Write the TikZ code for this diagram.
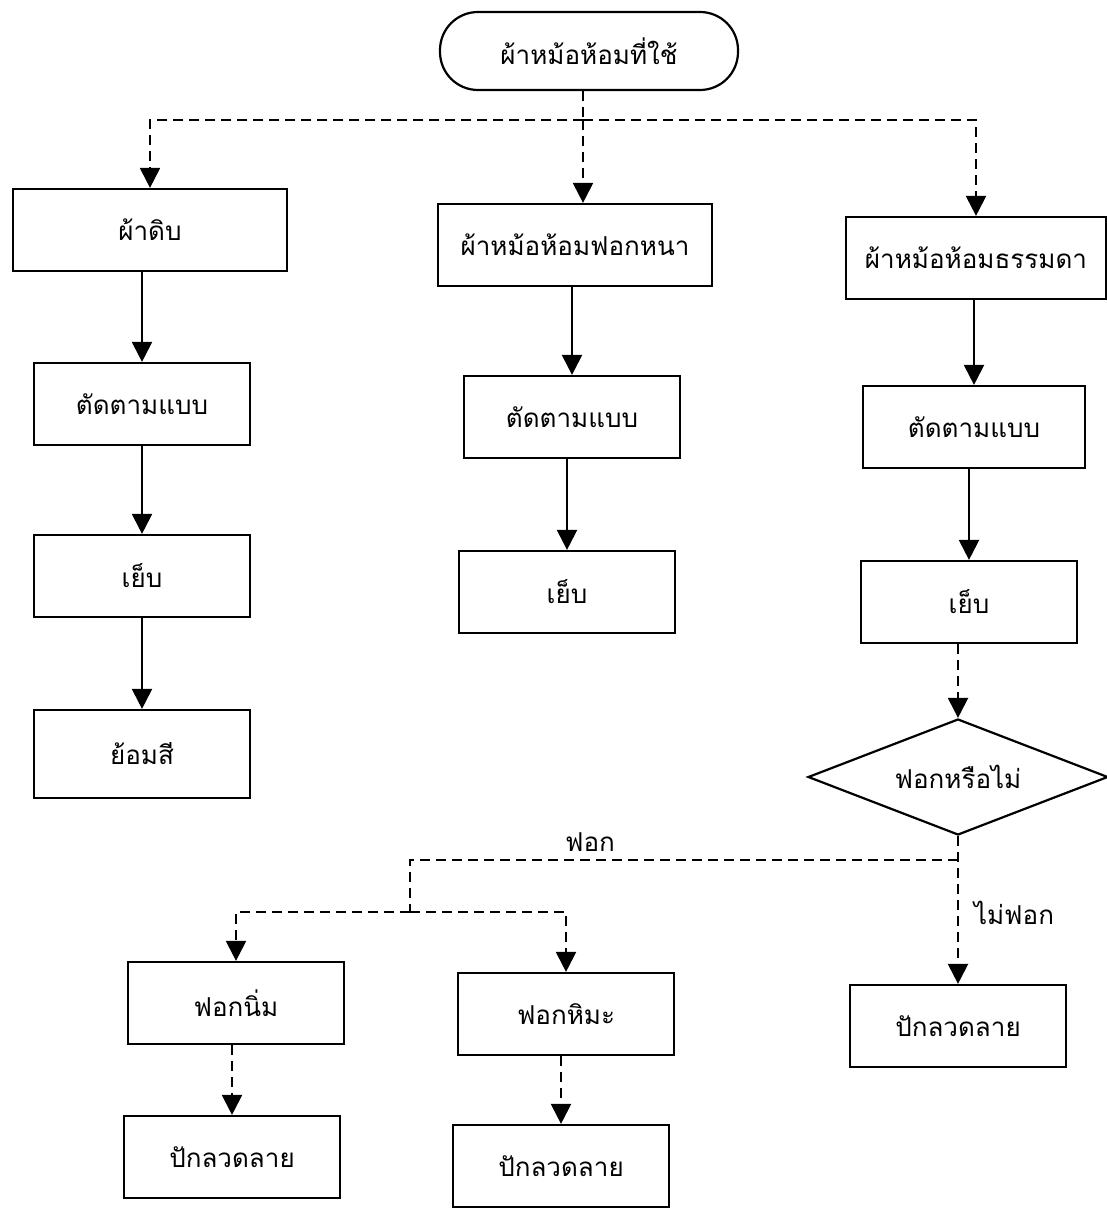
\documentclass[tikz,border=0pt]{standalone}
\usepackage{fontspec}
\newfontfamily\thaifont[Script=Thai]{Loma}
\usetikzlibrary{arrows.meta,shapes.geometric}
\tikzset{flowtip/.tip={Triangle[length=10pt,width=10pt]}}
\newcommand{\flowfont}{\thaifont\fontsize{13}{15}\selectfont}
\tikzstyle{stepbox}=[draw, line width=1.1pt, font=\flowfont, minimum width=108pt, minimum height=41pt]
\tikzstyle{startbox}=[stepbox, rounded corners=19pt, minimum width=149pt, minimum height=39pt]
\tikzstyle{askbox}=[draw, diamond, line width=1.1pt, font=\flowfont, aspect=2.6, inner sep=0pt,
                    minimum width=150pt, minimum height=58pt]
\tikzstyle{flow}=[-flowtip, line width=1.1pt]
\tikzstyle{dashline}=[line width=1.1pt, dash pattern=on 5pt off 3pt]
\tikzstyle{option}=[dashline, -flowtip]
\begin{document}
\begin{tikzpicture}[x=0.5pt, y=-0.5pt]

  % Page frame (pixel grid of the scan)
  \useasboundingbox (0,0) rectangle (1107,1209);

  % Start
  \node[startbox] at (589,51) (nodeStart) {ผ้าหม้อห้อมที่ใช้};

  % Left column
  \node[stepbox, minimum width=137pt] at (150,230) (nodeRaw) {ผ้าดิบ};
  \node[stepbox] at (142,404) (nodeCutA) {ตัดตามแบบ};
  \node[stepbox] at (142,576) (nodeSewA) {เย็บ};
  \node[stepbox, minimum height=44pt] at (142,754) (nodeDye) {ย้อมสี};

  % Middle column
  \node[stepbox, minimum width=137pt] at (575,245) (nodeThick) {ผ้าหม้อห้อมฟอกหนา};
  \node[stepbox] at (572,417) (nodeCutB) {ตัดตามแบบ};
  \node[stepbox] at (567,592) (nodeSewB) {เย็บ};

  % Right column
  \node[stepbox, minimum width=130pt] at (976,258) (nodePlain) {ผ้าหม้อห้อมธรรมดา};
  \node[stepbox, minimum width=111pt] at (974,427) (nodeCutC) {ตัดตามแบบ};
  \node[stepbox] at (969,602) (nodeSewC) {เย็บ};
  \node[askbox] at (958,777) (nodeAsk) {ฟอกหรือไม่};
  \node[stepbox] at (958,1026) (nodeEmbC) {ปักลวดลาย};

  % Bleached branch
  \node[stepbox] at (236,1003) (nodeSoft) {ฟอกนิ่ม};
  \node[stepbox] at (566,1014) (nodeSnow) {ฟอกหิมะ};
  \node[stepbox] at (232,1157) (nodeEmbA) {ปักลวดลาย};
  \node[stepbox] at (561,1166) (nodeEmbB) {ปักลวดลาย};

  % Branch points
  \coordinate (split) at (583,120);
  \coordinate (yes) at (958,860);
  \coordinate (fork) at (410,912);

  % Arrows
  \draw[dashline] (split |- nodeStart.south) -- (split);
  \draw[option] (split) -| (nodeRaw);
  \draw[option] (split) -- (split |- nodeThick.north);
  \draw[option] (split) -| (nodePlain);

  \draw[flow] (nodeCutA |- nodeRaw.south) -- (nodeCutA);
  \draw[flow] (nodeCutA) -- (nodeSewA);
  \draw[flow] (nodeSewA) -- (nodeDye);

  \draw[flow] (nodeCutB |- nodeThick.south) -- (nodeCutB);
  \draw[flow] (nodeCutB.south -| nodeSewB) -- (nodeSewB);

  \draw[flow] (nodeCutC |- nodePlain.south) -- (nodeCutC);
  \draw[flow] (nodeSewC |- nodeCutC.south) -- (nodeSewC);
  \draw[option] (nodeSewC.south -| nodeAsk) -- (nodeAsk);
  \draw[option] (nodeAsk) -- (nodeEmbC);

  \draw[dashline] (yes) -| (fork);
  \draw[option] (fork) -| (nodeSoft);
  \draw[option] (fork) -| (nodeSnow);
  \draw[option] (nodeEmbA |- nodeSoft.south) -- (nodeEmbA);
  \draw[option] (nodeSnow.south -| nodeEmbB) -- (nodeEmbB);

  % Labels
  \node[font=\flowfont] at (590,842) (labelYes) {ฟอก};
  \node[font=\flowfont] at (1014,913) (labelNo) {ไม่ฟอก};

\end{tikzpicture}
\end{document}
